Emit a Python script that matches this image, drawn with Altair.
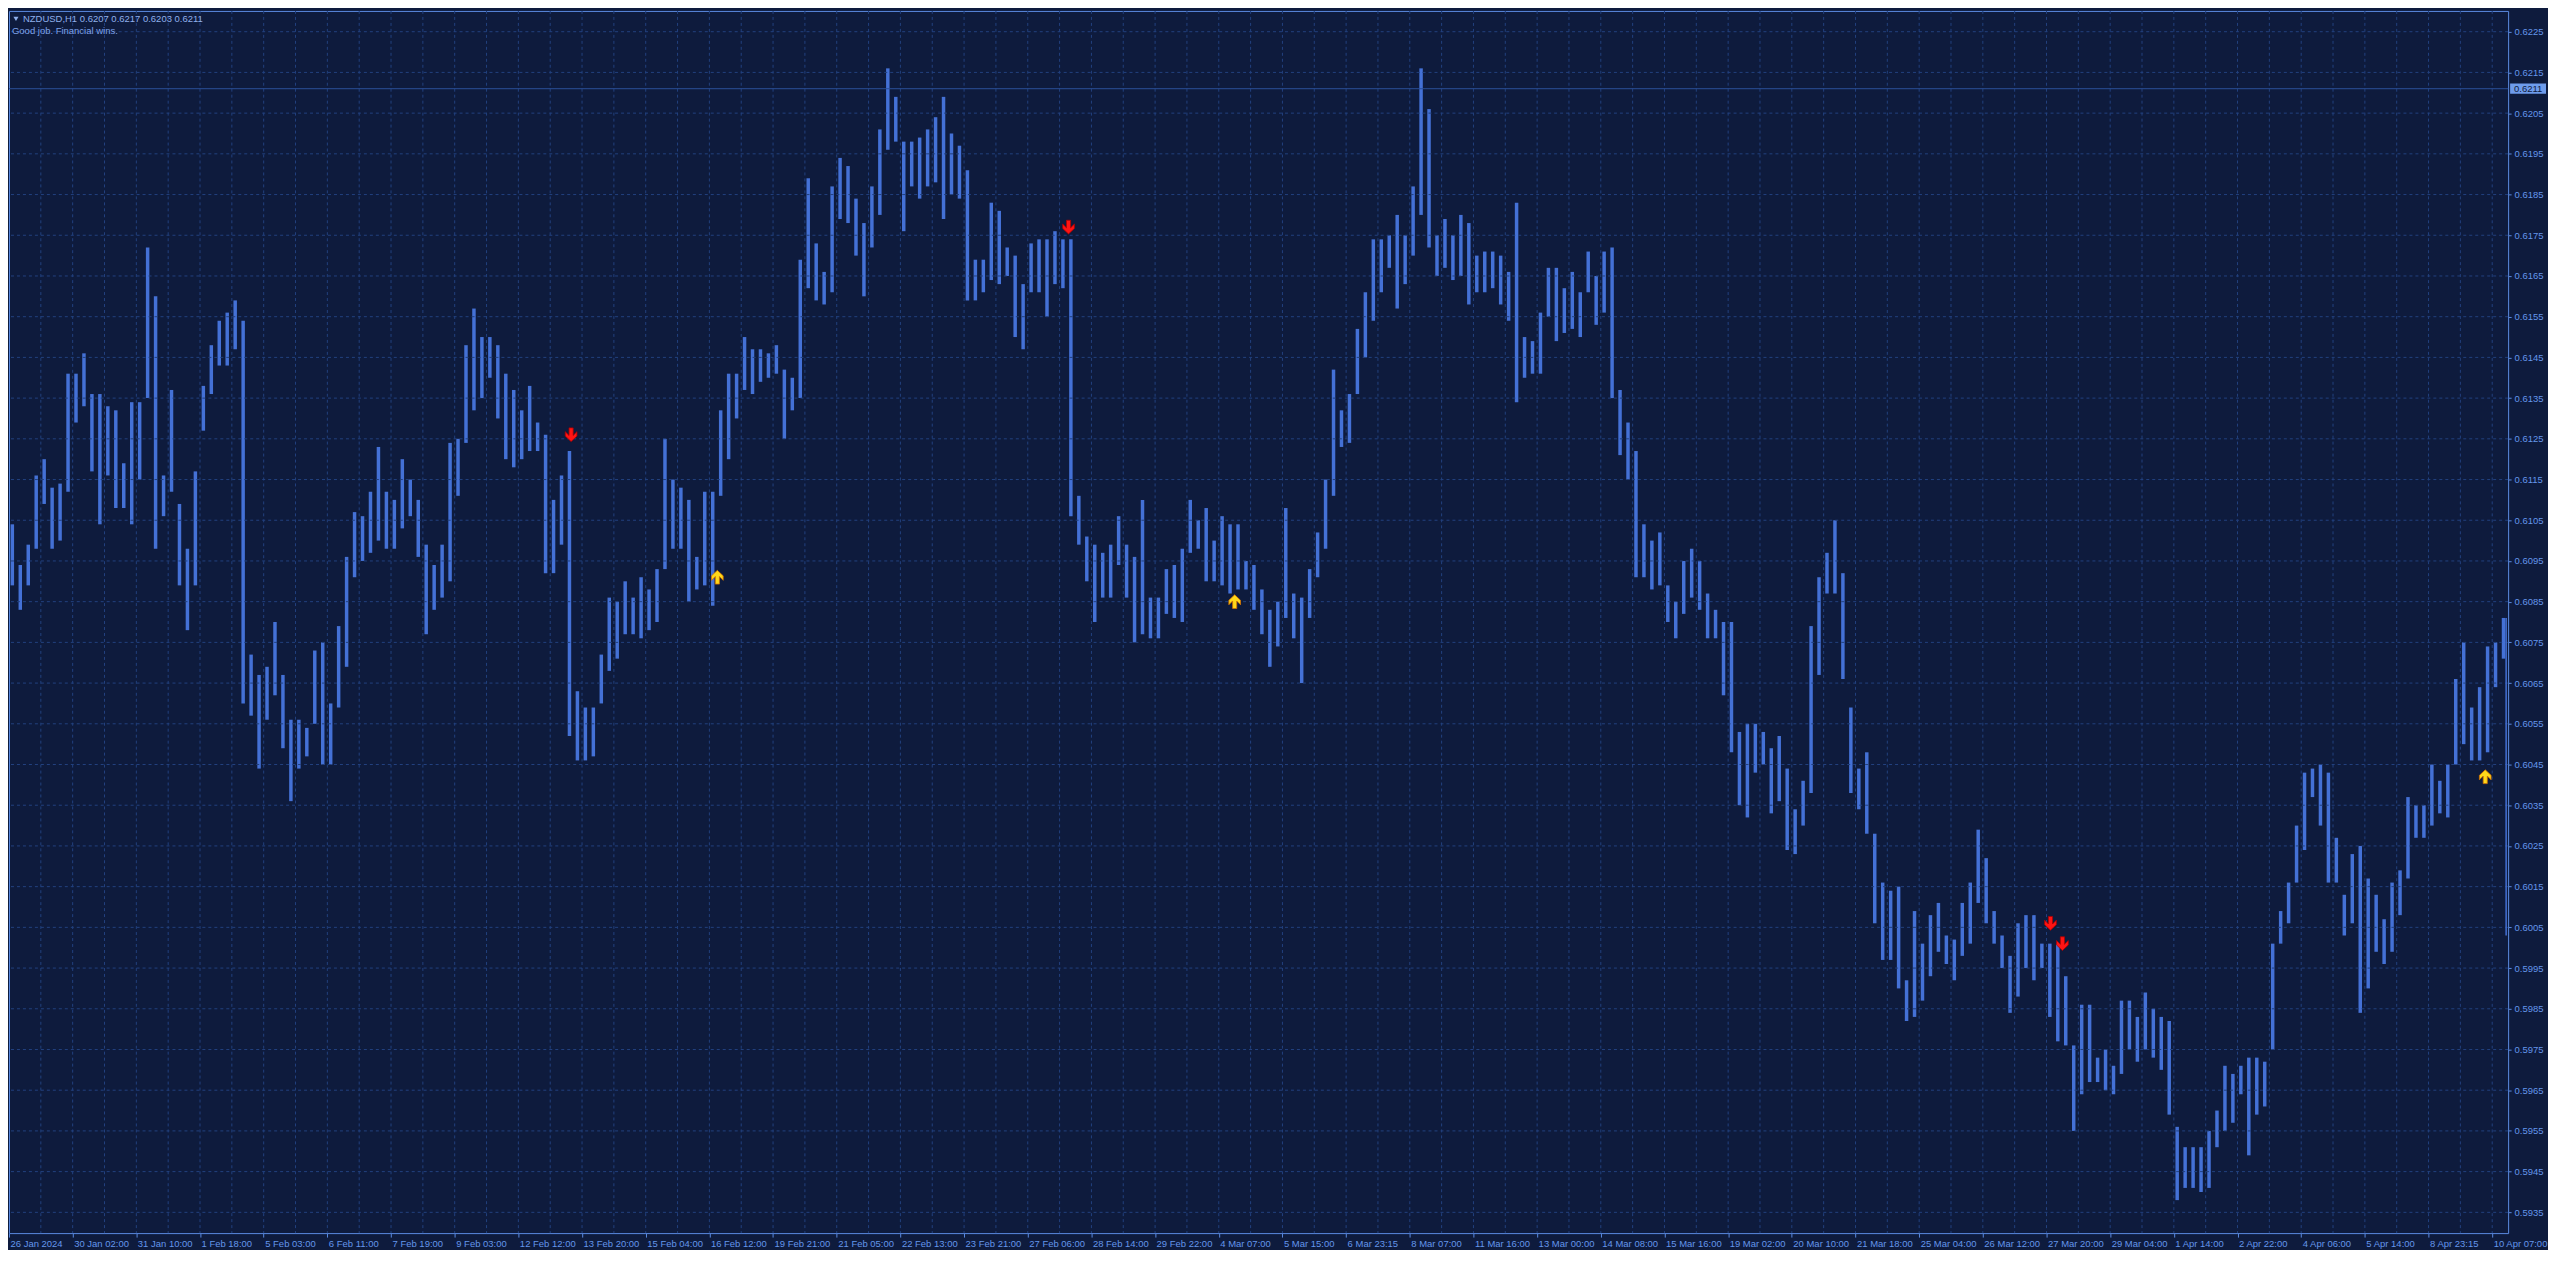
import json
import altair as alt
import pandas as pd

# ---------------- data ----------------
symbol = "NZDUSD,H1"
header_ohlc = [0.6207, 0.6217, 0.6203, 0.6211]
subtitle = "Good job. Financial wins."
bid_price = 0.6211

time_labels = [
    "26 Jan 2024", "30 Jan 02:00", "31 Jan 10:00", "1 Feb 18:00", "5 Feb 03:00",
    "6 Feb 11:00", "7 Feb 19:00", "9 Feb 03:00", "12 Feb 12:00", "13 Feb 20:00",
    "15 Feb 04:00", "16 Feb 12:00", "19 Feb 21:00", "21 Feb 05:00", "22 Feb 13:00",
    "23 Feb 21:00", "27 Feb 06:00", "28 Feb 14:00", "29 Feb 22:00", "4 Mar 07:00",
    "5 Mar 15:00", "6 Mar 23:15", "8 Mar 07:00", "11 Mar 16:00", "13 Mar 00:00",
    "14 Mar 08:00", "15 Mar 16:00", "19 Mar 02:00", "20 Mar 10:00", "21 Mar 18:00",
    "25 Mar 04:00", "26 Mar 12:00", "27 Mar 20:00", "29 Mar 04:00", "1 Apr 14:00",
    "2 Apr 22:00", "4 Apr 06:00", "5 Apr 14:00", "8 Apr 23:15", "10 Apr 07:00",
]
price_ticks = [
    0.5935, 0.5945, 0.5955, 0.5965, 0.5975, 0.5985, 0.5995, 0.6005, 0.6015, 0.6025,
    0.6035, 0.6045, 0.6055, 0.6065, 0.6075, 0.6085, 0.6095, 0.6105, 0.6115, 0.6125,
    0.6135, 0.6145, 0.6155, 0.6165, 0.6175, 0.6185, 0.6195, 0.6205, 0.6215, 0.6225,
]

# each entry = range of 4 consecutive hourly bars
high = [
    0.6104, 0.6094, 0.6099, 0.6116, 0.6120, 0.6113, 0.6114, 0.6141, 0.6141, 0.6146,
    0.6136, 0.6136, 0.6133, 0.6132, 0.6119, 0.6134, 0.6134, 0.6172, 0.6160, 0.6116,
    0.6137, 0.6109, 0.6098, 0.6117, 0.6138, 0.6148, 0.6154, 0.6156, 0.6159, 0.6154,
    0.6072, 0.6067, 0.6069, 0.6080, 0.6067, 0.6056, 0.6056, 0.6054, 0.6073, 0.6075,
    0.6060, 0.6079, 0.6096, 0.6107, 0.6106, 0.6112, 0.6123, 0.6112, 0.6110, 0.6120,
    0.6115, 0.6110, 0.6099, 0.6094, 0.6099, 0.6124, 0.6125, 0.6148, 0.6157, 0.6150,
    0.6150, 0.6148, 0.6141, 0.6137, 0.6132, 0.6138, 0.6129, 0.6126, 0.6110, 0.6116,
    0.6122, 0.6063, 0.6059, 0.6059, 0.6072, 0.6086, 0.6085, 0.6090, 0.6086, 0.6091,
    0.6088, 0.6093, 0.6125, 0.6115, 0.6113, 0.6110, 0.6096, 0.6112, 0.6112, 0.6132,
    0.6141, 0.6141, 0.6150, 0.6147, 0.6147, 0.6146, 0.6148, 0.6142, 0.6140, 0.6169,
    0.6189, 0.6173, 0.6166, 0.6187, 0.6194, 0.6192, 0.6184, 0.6178, 0.6187, 0.6201,
    0.6216, 0.6209, 0.6198, 0.6198, 0.6199, 0.6201, 0.6204, 0.6209, 0.6200, 0.6197,
    0.6191, 0.6169, 0.6169, 0.6183, 0.6181, 0.6172, 0.6170, 0.6163, 0.6173, 0.6174,
    0.6174, 0.6176, 0.6174, 0.6174, 0.6111, 0.6101, 0.6099, 0.6097, 0.6099, 0.6106,
    0.6099, 0.6096, 0.6110, 0.6086, 0.6086, 0.6093, 0.6094, 0.6098, 0.6110, 0.6105,
    0.6108, 0.6100, 0.6106, 0.6104, 0.6104, 0.6095, 0.6094, 0.6088, 0.6083, 0.6085,
    0.6108, 0.6087, 0.6086, 0.6093, 0.6102, 0.6115, 0.6142, 0.6132, 0.6136, 0.6152,
    0.6161, 0.6174, 0.6174, 0.6175, 0.6180, 0.6175, 0.6187, 0.6216, 0.6206, 0.6175,
    0.6179, 0.6175, 0.6180, 0.6178, 0.6170, 0.6171, 0.6171, 0.6170, 0.6166, 0.6183,
    0.6150, 0.6149, 0.6156, 0.6167, 0.6167, 0.6162, 0.6166, 0.6161, 0.6171, 0.6165,
    0.6171, 0.6172, 0.6137, 0.6129, 0.6122, 0.6104, 0.6100, 0.6102, 0.6089, 0.6085,
    0.6095, 0.6098, 0.6095, 0.6087, 0.6083, 0.6080, 0.6080, 0.6053, 0.6055, 0.6055,
    0.6053, 0.6049, 0.6052, 0.6044, 0.6034, 0.6041, 0.6079, 0.6091, 0.6097, 0.6105,
    0.6092, 0.6059, 0.6044, 0.6048, 0.6028, 0.6016, 0.6014, 0.6015, 0.5992, 0.6009,
    0.6001, 0.6008, 0.6011, 0.6003, 0.6002, 0.6011, 0.6016, 0.6029, 0.6022, 0.6009,
    0.6003, 0.5998, 0.6006, 0.6008, 0.6008, 0.6001, 0.6001, 0.6001, 0.5993, 0.5976,
    0.5986, 0.5986, 0.5973, 0.5975, 0.5971, 0.5987, 0.5987, 0.5983, 0.5989, 0.5985,
    0.5983, 0.5982, 0.5956, 0.5951, 0.5951, 0.5951, 0.5955, 0.5960, 0.5971, 0.5969,
    0.5971, 0.5973, 0.5973, 0.5972, 0.6001, 0.6009, 0.6016, 0.6030, 0.6043, 0.6044,
    0.6045, 0.6043, 0.6027, 0.6013, 0.6023, 0.6025, 0.6017, 0.6013, 0.6007, 0.6016,
    0.6019, 0.6037, 0.6035, 0.6035, 0.6045, 0.6041, 0.6045, 0.6066, 0.6075, 0.6059,
    0.6064, 0.6074, 0.6075, 0.6081,
]
low = [
    0.6089, 0.6083, 0.6089, 0.6098, 0.6109, 0.6098, 0.6100, 0.6112, 0.6129, 0.6133,
    0.6117, 0.6104, 0.6116, 0.6108, 0.6108, 0.6104, 0.6115, 0.6135, 0.6098, 0.6106,
    0.6112, 0.6089, 0.6078, 0.6089, 0.6127, 0.6136, 0.6143, 0.6143, 0.6147, 0.6060,
    0.6057, 0.6044, 0.6056, 0.6062, 0.6049, 0.6036, 0.6044, 0.6047, 0.6055, 0.6045,
    0.6045, 0.6059, 0.6069, 0.6091, 0.6095, 0.6097, 0.6100, 0.6098, 0.6098, 0.6103,
    0.6106, 0.6096, 0.6077, 0.6083, 0.6086, 0.6090, 0.6111, 0.6124, 0.6132, 0.6135,
    0.6140, 0.6130, 0.6120, 0.6118, 0.6120, 0.6122, 0.6122, 0.6092, 0.6092, 0.6099,
    0.6052, 0.6046, 0.6046, 0.6047, 0.6060, 0.6068, 0.6071, 0.6077, 0.6077, 0.6076,
    0.6078, 0.6080, 0.6093, 0.6098, 0.6098, 0.6085, 0.6088, 0.6089, 0.6084, 0.6111,
    0.6120, 0.6130, 0.6137, 0.6136, 0.6139, 0.6140, 0.6141, 0.6125, 0.6132, 0.6135,
    0.6162, 0.6159, 0.6158, 0.6161, 0.6179, 0.6178, 0.6170, 0.6160, 0.6172, 0.6180,
    0.6196, 0.6198, 0.6176, 0.6187, 0.6184, 0.6187, 0.6188, 0.6179, 0.6185, 0.6184,
    0.6159, 0.6159, 0.6161, 0.6164, 0.6163, 0.6165, 0.6150, 0.6147, 0.6161, 0.6161,
    0.6155, 0.6163, 0.6162, 0.6106, 0.6099, 0.6090, 0.6080, 0.6086, 0.6086, 0.6094,
    0.6086, 0.6075, 0.6077, 0.6076, 0.6076, 0.6082, 0.6081, 0.6080, 0.6097, 0.6098,
    0.6090, 0.6090, 0.6089, 0.6087, 0.6088, 0.6088, 0.6083, 0.6077, 0.6069, 0.6074,
    0.6081, 0.6076, 0.6065, 0.6081, 0.6091, 0.6098, 0.6111, 0.6123, 0.6124, 0.6136,
    0.6145, 0.6154, 0.6161, 0.6167, 0.6157, 0.6163, 0.6170, 0.6180, 0.6172, 0.6165,
    0.6167, 0.6164, 0.6165, 0.6158, 0.6161, 0.6161, 0.6162, 0.6158, 0.6154, 0.6134,
    0.6140, 0.6141, 0.6141, 0.6155, 0.6149, 0.6151, 0.6152, 0.6150, 0.6161, 0.6153,
    0.6156, 0.6135, 0.6121, 0.6115, 0.6091, 0.6091, 0.6088, 0.6089, 0.6080, 0.6076,
    0.6082, 0.6086, 0.6083, 0.6076, 0.6076, 0.6062, 0.6048, 0.6035, 0.6032, 0.6043,
    0.6045, 0.6033, 0.6036, 0.6024, 0.6023, 0.6030, 0.6038, 0.6067, 0.6087, 0.6087,
    0.6066, 0.6038, 0.6034, 0.6028, 0.6006, 0.5997, 0.5997, 0.5990, 0.5982, 0.5983,
    0.5987, 0.5993, 0.5999, 0.5996, 0.5992, 0.5998, 0.6001, 0.6011, 0.6006, 0.6001,
    0.5995, 0.5984, 0.5988, 0.5995, 0.5992, 0.5995, 0.5983, 0.5977, 0.5976, 0.5955,
    0.5964, 0.5967, 0.5967, 0.5965, 0.5964, 0.5969, 0.5975, 0.5972, 0.5975, 0.5973,
    0.5970, 0.5959, 0.5938, 0.5941, 0.5941, 0.5940, 0.5941, 0.5951, 0.5955, 0.5957,
    0.5964, 0.5949, 0.5959, 0.5961, 0.5975, 0.6001, 0.6006, 0.6016, 0.6024, 0.6037,
    0.6030, 0.6016, 0.6016, 0.6003, 0.6006, 0.5984, 0.5990, 0.5999, 0.5996, 0.5999,
    0.6008, 0.6017, 0.6027, 0.6027, 0.6030, 0.6033, 0.6032, 0.6045, 0.6050, 0.6046,
    0.6046, 0.6048, 0.6064, 0.6071,
]
edge_bar = [0.6081, 0.6003]          # the lone bar on the right border
sell_bar = [282.5, 532.5, 1026, 1032]  # position in hourly bars
sell_price = [0.6126, 0.6177, 0.6006, 0.6001]
buy_bar = [356, 616, 1244.5]
buy_price = [0.6091, 0.6085, 0.6042]

# ---------------- styling ----------------
BG = "#0E1B3D"
GRID = "#22407E"
FRAME = "#5A8AE0"
BAR = "#4471D6"
LBL = "#6496EB"
FONT = "Liberation Sans, Arial, sans-serif"
W, H = 2507, 1226
N_BARS = 1256

xs = alt.Scale(domain=[0, N_BARS], nice=False, zero=False)
ys = alt.Scale(domain=[0.59299, 0.62301], nice=False, zero=False)

label_array = "[" + ",".join(json.dumps(t) for t in time_labels) + "]"

df = pd.DataFrame({"slot": list(range(len(high))), "high": high, "low": low})

bars = (
    alt.Chart(df)
    .transform_calculate(x0="datum.slot*4+0.8", x1="datum.slot*4+2.55")
    .mark_rect(color=BAR)
    .encode(
        x=alt.X("x0:Q", scale=xs, title=None,
                axis=alt.Axis(orient="bottom", values=list(range(0, 1249, 32)),
                              labelExpr=label_array + "[round(datum.value/32)]",
                              domain=False, grid=False, ticks=True, tickSize=4,
                              tickColor=FRAME, labelColor=LBL, labelFont=FONT,
                              labelFontSize=9.5, labelAlign="left", labelBaseline="top",
                              labelPadding=1, labelOffset=1, labelOverlap=False,
                              labelFlush=False)),
        x2="x1:Q",
        y=alt.Y("high:Q", scale=ys, title=None,
                axis=alt.Axis(orient="right", values=price_ticks, format=".4f",
                              domain=False, grid=False, ticks=True, tickSize=3,
                              tickColor=FRAME, labelColor=LBL, labelFont=FONT,
                              labelFontSize=9.5, labelPadding=3, labelOverlap=False,
                              labelFlush=False)),
        y2="low:Q",
    )
)

vgrid = (
    alt.Chart(pd.DataFrame({"g": list(range(16, N_BARS, 16))}))
    .mark_rule(color=GRID, strokeDash=[3, 3], strokeWidth=1)
    .encode(x=alt.X("g:Q", scale=xs, axis=None))
)
hgrid = (
    alt.Chart(pd.DataFrame({"p": price_ticks}))
    .mark_rule(color=GRID, strokeDash=[3, 3], strokeWidth=1)
    .encode(y=alt.Y("p:Q", scale=ys, axis=None))
)
bid_df = pd.DataFrame({"p": [bid_price]})
bid_line = alt.Chart(bid_df).mark_rule(color="#2B5099", strokeWidth=1).encode(
    y=alt.Y("p:Q", scale=ys, axis=None))

edge = (
    alt.Chart(pd.DataFrame({"b": [N_BARS - 1], "h": [edge_bar[0]], "l": [edge_bar[1]]}))
    .mark_rule(color=BAR, strokeWidth=1.5)
    .encode(x=alt.X("b:Q", scale=xs, axis=None), y=alt.Y("h:Q", scale=ys, axis=None), y2="l:Q")
)

DOWN = "M-0.3,-1L0.3,-1L0.3,0.1L0.85,-0.45L0.85,0.2L0,1L-0.85,0.2L-0.85,-0.45L-0.3,0.1Z"
UP = "M-0.3,1L0.3,1L0.3,-0.1L0.85,0.45L0.85,-0.2L0,-1L-0.85,-0.2L-0.85,0.45L-0.3,-0.1Z"

sells = (
    alt.Chart(pd.DataFrame({"b": sell_bar, "p": sell_price}))
    .mark_point(shape=DOWN, filled=True, size=190, fill="#FF1414", stroke="#B00000",
                strokeWidth=0.8, opacity=1)
    .encode(x=alt.X("b:Q", scale=xs, axis=None), y=alt.Y("p:Q", scale=ys, axis=None))
)
buys = (
    alt.Chart(pd.DataFrame({"b": buy_bar, "p": buy_price}))
    .mark_point(shape=UP, filled=True, size=190, fill="#FFD81A", stroke="#D07000",
                strokeWidth=0.8, opacity=1)
    .encode(x=alt.X("b:Q", scale=xs, axis=None), y=alt.Y("p:Q", scale=ys, axis=None))
)

tag = (
    alt.Chart(bid_df)
    .transform_calculate(top="datum.p+0.000125", bot="datum.p-0.000125")
    .mark_rect(color="#6E9CEC")
    .encode(x=alt.value(W + 2), x2=alt.value(W + 38),
            y=alt.Y("top:Q", scale=ys, axis=None), y2="bot:Q")
)
tag_text = (
    alt.Chart(bid_df)
    .transform_calculate(t="format(datum.p, '.4f')")
    .mark_text(align="left", baseline="middle", color=BG, font=FONT, fontSize=9.5)
    .encode(x=alt.value(W + 6), y=alt.Y("p:Q", scale=ys, axis=None), text="t:N")
)

header_str = symbol + "  " + " ".join(f"{v:.4f}" for v in header_ohlc)
hdr_df = pd.DataFrame({"t": [header_str], "s": [subtitle]})
tri = alt.Chart(hdr_df).mark_point(shape="triangle-down", filled=True, size=26,
                                   color="#8FB0EC", opacity=1).encode(
    x=alt.value(7), y=alt.value(8))
hdr1 = alt.Chart(hdr_df).mark_text(align="left", baseline="alphabetic", color="#8FB0EC",
                                   font=FONT, fontSize=9.5).encode(
    x=alt.value(14), y=alt.value(11), text="t:N")
hdr2 = alt.Chart(hdr_df).mark_text(align="left", baseline="alphabetic", color="#7FA3EA",
                                   font=FONT, fontSize=9.5).encode(
    x=alt.value(3), y=alt.value(23), text="s:N")

chart = (
    alt.layer(bars, vgrid, hgrid, bid_line, edge, sells, buys, tag, tag_text, tri, hdr1, hdr2)
    .resolve_axis(x="independent", y="independent")
    .properties(width=W, height=H, background=BG, padding=0)
    .configure_view(stroke=FRAME, strokeWidth=1, fill=BG)
)

chart.save("out.html", embed_options={"renderer": "svg", "actions": False})
